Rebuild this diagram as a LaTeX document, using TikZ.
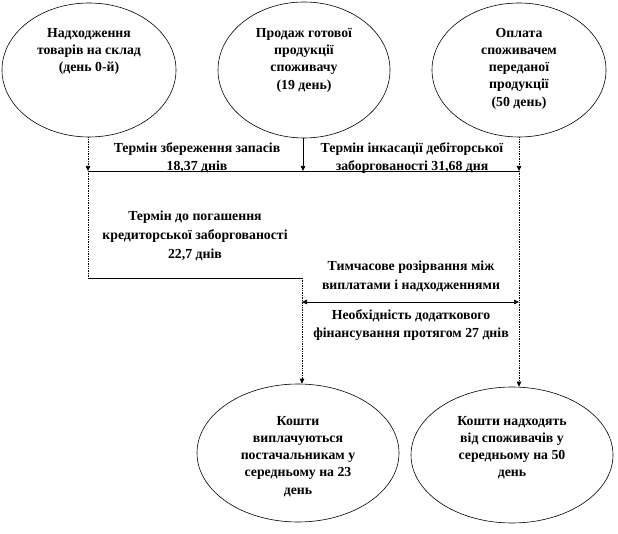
\documentclass[tikz,border=0pt]{standalone}
\usepackage{fontspec}
\setmainfont{Liberation Serif}
\usetikzlibrary{shapes.geometric,arrows.meta}
\begin{document}
\begin{tikzpicture}[x=1pt,y=-1pt,
  oval/.style={draw,ellipse,inner sep=0pt,line width=0.6pt},
  lbl/.style={font=\bfseries\fontsize{13.8}{17.2}\selectfont,align=center,inner sep=0pt,anchor=north},
  wide/.style={font=\bfseries\fontsize{13.8}{18.8}\selectfont},
  conn/.style={line width=0.7pt},
  dotconn/.style={line width=0.7pt,densely dotted},
  arr/.style={-{Triangle[length=5pt,width=4.5pt]}},
  darr/.style={{Triangle[length=5pt,width=4.5pt]}-{Triangle[length=5pt,width=4.5pt]}}
]
\useasboundingbox (0,0) rectangle (618,534);
% ellipses
\node[oval,minimum width=174pt,minimum height=134pt] (e1) at (89,70) {};
\node[oval,minimum width=172pt,minimum height=136pt] (e2) at (304,70) {};
\node[oval,minimum width=174pt,minimum height=134pt] (e3) at (519,70) {};
\node[oval,minimum width=202pt,minimum height=138pt] (e4) at (298,453) {};
\node[oval,minimum width=202pt,minimum height=136pt] (e5) at (512,455) {};
% ellipse texts
\node[lbl] (t1) at (89,28) {Надходження\\товарів на склад\\(день 0-й)};
\node[lbl] (t2) at (304,28) {Продаж готової\\продукції\\споживачу\\(19 день)};
\node[lbl] (t3) at (519,28) {Оплата\\споживачем\\переданої\\продукції\\(50 день)};
\node[lbl] (t4) at (298,416) {Кошти\\виплачуються\\постачальникам у\\середньому на 23\\день};
\node[lbl] (t5) at (512,416) {Кошти надходять\\від споживачів  у\\середньому на 50\\день};
% coordinates
\coordinate (h1) at (88,171);
\coordinate (h2) at (303,171);
\coordinate (h3) at (519,171);
\coordinate (c1) at (88,278);
\coordinate (c2) at (302,278);
\coordinate (d1) at (302,302);
\coordinate (d2) at (519,302);
% connectors
\draw[dotconn,arr] (e1.south -| h1) -- (h1);
\draw[conn,arr] (e2.south -| h2) -- (h2);
\draw[dotconn,arr] (e3.south) -- (h3);
\draw[conn] (h1) -- (h3);
\draw[dotconn] (h1) -- (c1);
\draw[conn] (c1) -- (c2);
\draw[dotconn,arr] (c2) -- (c2 |- e4.north);
\draw[dotconn,arr] (h3) -- (h3 |- e5.north);
\draw[conn,darr] (d1) -- (d2);
% labels
\node[lbl,wide] (l1) at (197,142) {Термін збереження запасів\\18,37 днів};
\node[lbl,wide] (l2) at (412,142) {Термін інкасації  дебіторської\\заборгованості 31,68  дня};
\node[lbl,wide] (l3) at (195,211) {Термін до погашення\\кредиторської заборгованості\\22,7 днів};
\node[lbl,wide] (l4) at (411,261) {Тимчасове розірвання між\\виплатами і надходженнями};
\node[lbl,wide] (l5) at (411,309) {Необхідність додаткового\\фінансування  протягом 27 днів};
\end{tikzpicture}
\end{document}
